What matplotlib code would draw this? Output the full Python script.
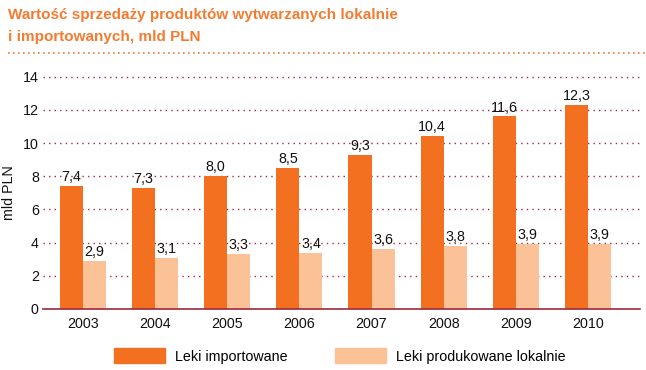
import numpy as np
import matplotlib
matplotlib.use('AGG')
import matplotlib.pyplot as plt
from matplotlib.patches import Patch
from matplotlib.lines import Line2D

lata = ['2003', '2004', '2005', '2006', '2007', '2008', '2009', '2010']
importowane = [7.4, 7.3, 8.0, 8.5, 9.3, 10.4, 11.6, 12.3]
lokalne = [2.9, 3.1, 3.3, 3.4, 3.6, 3.8, 3.9, 3.9]
etykiety_serii = ['Leki importowane', 'Leki produkowane lokalnie']

c_imp = '#F37021'
c_lok = '#FBC197'
c_tytul = '#F47B30'
c_siatka = '#A0283A'

plt.rcParams['font.family'] = ['Liberation Sans', 'DejaVu Sans']
fs = 10.3

fig = plt.figure(figsize=(6.46, 3.70), dpi=100)
ax = fig.add_axes([0.0666, 0.165, 0.9244, 0.63])

x = np.arange(len(lata))
w = 0.32
ax.bar(x - w / 2, importowane, w, color=c_imp, zorder=3)
ax.bar(x + w / 2, lokalne, w, color=c_lok, zorder=3)

for i in range(len(lata)):
    ax.text(x[i] - w / 2, importowane[i] + 0.12, f'{importowane[i]:.1f}'.replace('.', ','),
            ha='center', va='bottom', fontsize=fs, color='#111111', zorder=4)
    ax.text(x[i] + w / 2, lokalne[i] + 0.12, f'{lokalne[i]:.1f}'.replace('.', ','),
            ha='center', va='bottom', fontsize=fs, color='#111111', zorder=4)

ax.set_xlim(-0.55, 7.72)
ax.set_ylim(0, 14.05)
ax.set_yticks(range(0, 15, 2))
ax.set_xticks(x)
ax.set_xticklabels(lata)
ax.tick_params(length=0, labelsize=fs, colors='#111111')
ax.tick_params(axis='x', pad=6)
ax.tick_params(axis='y', pad=3)
for s in ['top', 'right', 'left']:
    ax.spines[s].set_visible(False)
ax.spines['bottom'].set_color(c_siatka)
ax.spines['bottom'].set_linewidth(1.2)
ax.spines['bottom'].set_zorder(5)
ax.yaxis.grid(True, color=c_siatka, linestyle=(0, (1, 3)), linewidth=1.0, zorder=0)
ax.set_ylabel('mld PLN', fontsize=fs, color='#111111', labelpad=5)

fig.text(8 / 646, 1 - 15 / 370, 'Wartość sprzedaży produktów wytwarzanych lokalnie',
         fontsize=11, fontweight='bold', color=c_tytul, va='center', ha='left')
fig.text(8 / 646, 1 - 37 / 370, 'i importowanych, mld PLN',
         fontsize=11, fontweight='bold', color=c_tytul, va='center', ha='left')
fig.add_artist(Line2D([8 / 646, 1.0], [1 - 53 / 370, 1 - 53 / 370], transform=fig.transFigure,
                      color=c_tytul, linestyle=(0, (1, 2)), linewidth=1.2))

fig.legend([Patch(color=c_imp), Patch(color=c_lok)], etykiety_serii,
           loc='center', bbox_to_anchor=(0.526, 1 - 356 / 370), ncol=2, frameon=False,
           fontsize=fs, handlelength=3.55, handleheight=1.2, columnspacing=3.3,
           handletextpad=0.7)

plt.savefig('out.png', dpi=100)
